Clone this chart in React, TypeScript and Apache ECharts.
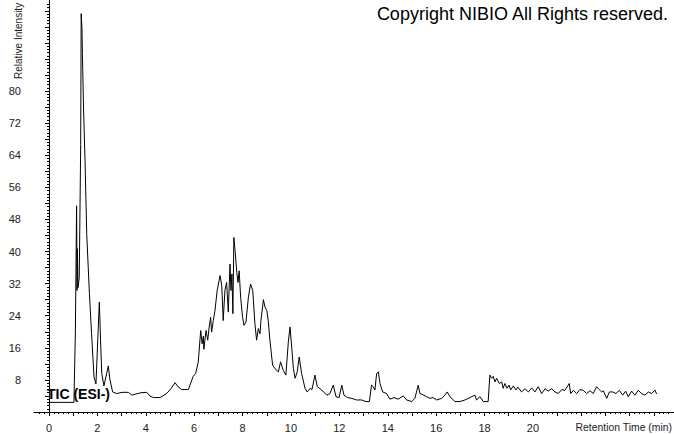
import React, { useEffect, useRef } from 'react';
import * as echarts from 'echarts';

// Retention time (min) and relative intensity
const retentionTimes = [
  0.0, 0.04, 1.03, 1.09, 1.14, 1.16, 1.17, 1.2, 1.25, 1.31, 1.33, 1.36, 1.38, 1.43, 1.49, 1.56, 1.67, 1.76, 1.86, 1.94,
  2.08, 2.13, 2.18, 2.27, 2.38, 2.45, 2.52, 2.63, 2.8, 3.02, 3.28, 3.42, 3.6, 3.8, 4.04, 4.17, 4.31, 4.59, 4.86, 5.04,
  5.21, 5.33, 5.48, 5.76, 5.96, 6.06, 6.17, 6.27, 6.33, 6.38, 6.4, 6.49, 6.56, 6.62, 6.68, 6.72, 6.79, 6.86, 6.95, 7.07,
  7.14, 7.2, 7.27, 7.34, 7.41, 7.48, 7.52, 7.56, 7.6, 7.64, 7.69, 7.76, 7.81, 7.86, 7.92, 8.0, 8.06, 8.14, 8.24, 8.33,
  8.42, 8.51, 8.58, 8.65, 8.72, 8.76, 8.86, 8.93, 9.0, 9.06, 9.13, 9.24, 9.34, 9.48, 9.57, 9.68, 9.79, 9.89, 9.96, 10.03,
  10.1, 10.17, 10.26, 10.34, 10.44, 10.58, 10.67, 10.79, 10.87, 10.99, 11.09, 11.27, 11.48, 11.61, 11.75, 11.86, 11.99, 12.1, 12.19, 12.33,
  12.51, 12.71, 12.92, 13.1, 13.24, 13.33, 13.4, 13.47, 13.54, 13.61, 13.68, 13.79, 13.95, 14.09, 14.26, 14.43, 14.64, 14.78, 14.99, 15.12,
  15.26, 15.33, 15.45, 15.61, 15.74, 15.87, 16.02, 16.23, 16.36, 16.46, 16.57, 16.78, 16.98, 17.19, 17.4, 17.6, 17.67, 17.81, 17.95, 18.15,
  18.22, 18.29, 18.36, 18.43, 18.5, 18.61, 18.71, 18.77, 18.84, 18.93, 19.01, 19.08, 19.19, 19.3, 19.38, 19.53, 19.67, 19.81, 19.95, 20.08,
  20.22, 20.36, 20.5, 20.63, 20.77, 20.91, 21.05, 21.19, 21.32, 21.46, 21.5, 21.56, 21.67, 21.81, 21.94, 22.08, 22.22, 22.36, 22.49, 22.63,
  22.74, 22.84, 22.91, 23.05, 23.16, 23.3, 23.43, 23.57, 23.71, 23.83, 23.94, 24.08, 24.21, 24.35, 24.49, 24.63, 24.77, 24.91, 25.04, 25.11,
];
const relIntensity = [
  1.7, 2.4, 2.4, 20, 51.4, 30.3, 40.7, 31, 33.5, 66.7, 99.3, 96, 89.4, 75, 62.5, 44.3, 29.5, 19.5, 8.7, 7,
  27.4, 18, 9.6, 6.5, 9.5, 11.5, 8, 5, 4.6, 4.9, 4.9, 4.2, 4.5, 4.8, 4.9, 4.0, 3.6, 3.6, 4.6, 5.8,
  7.3, 6.3, 5.6, 5.6, 8.9, 9.6, 12.5, 20.3, 17, 18.9, 15.6, 20.3, 17.9, 21.2, 23.6, 19.9, 22.8, 25.3, 30.3, 34,
  31.5, 22.8, 30.3, 32.3, 24.9, 36.9, 30.3, 34.4, 24.5, 43.5, 40.2, 34.8, 32.3, 35.2, 28.6, 23.6, 21.6, 22.4, 28.6, 31.9,
  30.3, 22, 17.9, 20.8, 19.5, 22.8, 28, 26.1, 25.3, 22.8, 17.9, 11.7, 10.8, 10, 12.5, 10.4, 9.2, 17.4, 21.2, 16.2,
  10.8, 8.4, 10, 13.7, 9.6, 5.9, 5, 5.9, 5.6, 9.2, 6.3, 5.5, 4.2, 4.6, 6.7, 3.8, 3.6, 6.7, 4.2, 3.6,
  3.4, 3.0, 3.0, 2.6, 2.6, 6.7, 6.3, 5.5, 9.6, 10, 7.1, 5, 4.6, 3.2, 3.6, 3.2, 4, 3, 2.6, 3.4,
  6.7, 4.6, 4.3, 3.8, 3.4, 3.6, 3, 3.4, 4.2, 5, 3.8, 2.6, 2.6, 3, 3.6, 4.2, 3, 3.8, 2.6, 2.6,
  9.2, 8.4, 8.9, 7.5, 8.4, 7.1, 7.5, 5.9, 7.1, 5.9, 6.7, 5.5, 6.5, 5.5, 6.2, 5, 5.8, 5, 6.0, 5,
  6.3, 4.6, 5.8, 5.2, 5.8, 5, 4.6, 5.6, 5.4, 6.7, 7.1, 4.6, 5.4, 4.6, 5.6, 5.4, 4.6, 5.3, 4.6, 6.3,
  5.6, 5, 5.3, 3.4, 5, 5, 4.6, 5.4, 4.2, 5.2, 3.8, 5.2, 4.2, 5.4, 4.6, 4.2, 5, 4.6, 5.5, 4.5,
];

// Axis ticks and labels
const xMajorTicks = Array.from({ length: 26 }, (_, i) => i);
const xLabelValues = [0, 2, 4, 6, 8, 10, 12, 14, 16, 18, 20];
const xMinorTicks: number[] = [];
for (let i = -2; i < 129; i++) if (i % 5 !== 0) xMinorTicks.push(+(i * 0.2).toFixed(2));
const yMajorTicks = Array.from({ length: 25 }, (_, i) => (i + 1) * 4);
const yLabelValues = [8, 16, 24, 32, 40, 48, 56, 64, 72, 80];
const yMinorTicks: number[] = [];
for (let i = 1; i < 128; i++) if (i % 5 !== 0) yMinorTicks.push(+(i * 0.8).toFixed(2));

const X_MIN = -0.62;
const X_MAX = 25.83;
const Y_MIN = 0;
const Y_MAX = 102.7;

const FONT = 'Liberation Sans, Arial, sans-serif';

export default function App() {
  const ref = useRef<HTMLDivElement>(null);
  useEffect(() => {
    const chart = echarts.init(ref.current!, null, { renderer: 'svg' });
    const data = retentionTimes.map((t, i) => [t, relIntensity[i]]);
    chart.setOption({
      animation: false,
      backgroundColor: '#ffffff',
      grid: { left: 34, right: 0, top: 0, bottom: 22, containLabel: false },
      xAxis: [
        {
          type: 'value',
          min: X_MIN,
          max: X_MAX,
          position: 'bottom',
          axisLine: { show: true, lineStyle: { color: '#000', width: 1 } },
          axisTick: { show: true, length: 4, customValues: xMajorTicks, lineStyle: { color: '#000' } },
          axisLabel: {
            show: true,
            customValues: xLabelValues,
            margin: 10,
            color: '#222',
            fontSize: 11,
            fontFamily: FONT,
          },
          splitLine: { show: false },
        },
        {
          type: 'value',
          min: X_MIN,
          max: X_MAX,
          position: 'bottom',
          axisLine: { show: false },
          axisTick: { show: true, length: 2, customValues: xMinorTicks, lineStyle: { color: '#000' } },
          axisLabel: { show: false },
          splitLine: { show: false },
        },
      ],
      yAxis: [
        {
          type: 'value',
          min: Y_MIN,
          max: Y_MAX,
          position: 'left',
          axisLine: { show: true, lineStyle: { color: '#000', width: 1 } },
          axisTick: { show: true, length: 4, customValues: yMajorTicks, lineStyle: { color: '#000' } },
          axisLabel: {
            show: true,
            customValues: yLabelValues,
            margin: 13,
            color: '#222',
            fontSize: 11,
            fontFamily: FONT,
          },
          splitLine: { show: false },
        },
        {
          type: 'value',
          min: Y_MIN,
          max: Y_MAX,
          position: 'left',
          axisLine: { show: false },
          axisTick: { show: true, length: 2, customValues: yMinorTicks, lineStyle: { color: '#000' } },
          axisLabel: { show: false },
          splitLine: { show: false },
        },
      ],
      series: [
        {
          type: 'line',
          xAxisIndex: 0,
          yAxisIndex: 0,
          data,
          showSymbol: false,
          symbol: 'none',
          smooth: false,
          lineStyle: { color: '#000', width: 1 },
          silent: true,
        },
      ],
      graphic: [
        {
          type: 'text',
          x: 668,
          y: 14,
          style: {
            text: 'Copyright NIBIO All Rights reserved.',
            fill: '#000',
            font: `18px ${FONT}`,
            textAlign: 'right',
            textVerticalAlign: 'middle',
          },
        },
        {
          type: 'text',
          x: 18,
          y: 79,
          rotation: Math.PI / 2,
          style: {
            text: 'Relative Intensity',
            fill: '#222',
            font: `10px ${FONT}`,
            textAlign: 'left',
            textVerticalAlign: 'middle',
          },
        },
        {
          type: 'text',
          x: 672,
          y: 427,
          style: {
            text: 'Retention Time (min)',
            fill: '#222',
            font: `10.4px ${FONT}`,
            textAlign: 'right',
            textVerticalAlign: 'middle',
          },
        },
        {
          type: 'text',
          x: 47,
          y: 394,
          style: {
            text: 'TIC (ESI-)',
            fill: '#000',
            font: `bold 14px ${FONT}`,
            textAlign: 'left',
            textVerticalAlign: 'middle',
          },
        },
      ],
    });
    return () => chart.dispose();
  }, []);
  return (
    <div
      ref={ref}
      style={{ position: 'absolute', left: 0, top: 0, width: 674, height: 434, background: '#fff' }}
    />
  );
}
